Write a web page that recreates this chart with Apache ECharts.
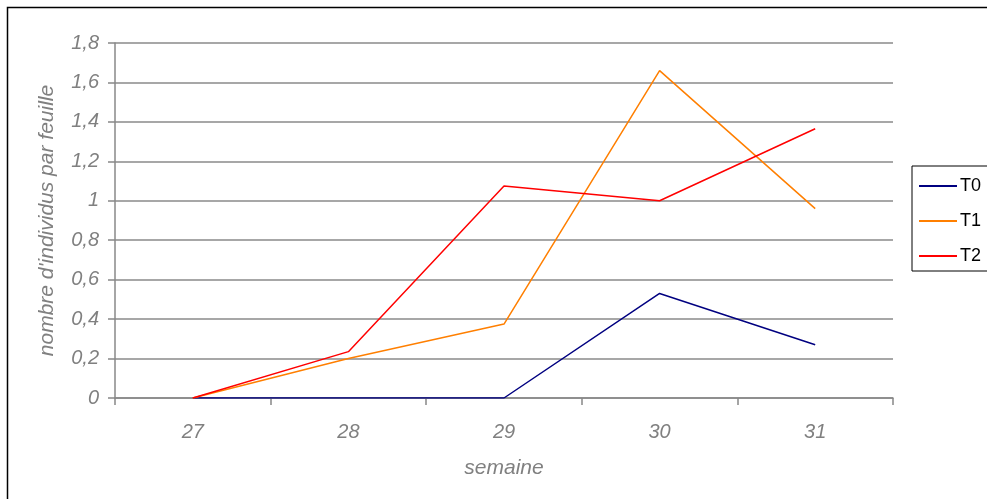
<!DOCTYPE html>
<html><head><meta charset="utf-8">
<script src="https://cdn.jsdelivr.net/npm/echarts@6/dist/echarts.min.js"></script>
<style>html,body{margin:0;padding:0;background:#fff}#c{width:987px;height:499px}</style>
</head><body><div id="c"></div>
<script>
const categories = ['27','28','29','30','31'];
const t0 = [0, 0, 0, 0.53, 0.27];
const t1 = [0, 0.20, 0.375, 1.66, 0.96];
const t2 = [0, 0.235, 1.075, 1.0, 1.365];
const seriesNames = ['T0','T1','T2'];
const colors = ['#000080','#ff7f00','#ff0000'];

const chart = echarts.init(document.getElementById('c'), null, {renderer:'canvas'});
const lbl = {color:'#808080', fontStyle:'italic', fontFamily:'Liberation Sans, Arial', fontSize:20};
chart.setOption({
  animation:false,
  graphic:[{type:'rect', shape:{x:7.5,y:7.5,width:1000,height:520}, style:{fill:null, stroke:'#000', lineWidth:1.5}, silent:true}],
  grid:{left:115, right:94, top:43, bottom:101, containLabel:false},
  legend:{
    orient:'vertical', left:912, top:166, data:seriesNames,
    itemWidth:38, itemHeight:2, itemGap:17, icon:'rect',
    borderColor:'#000', borderWidth:1, padding:[11,30,6,7],
    textStyle:{color:'#000', fontFamily:'Liberation Sans, Arial', fontSize:18, padding:[0,0,0,-2], height:18, lineHeight:18}
  },
  xAxis:{type:'category', data:categories, boundaryGap:true,
    name:'semaine', nameLocation:'middle', nameGap:60, nameTextStyle:Object.assign({}, lbl, {fontSize:21}),
    axisLine:{lineStyle:{color:'#888', width:1.5}},
    axisTick:{show:true, length:7, lineStyle:{color:'#888', width:1.5}},
    axisLabel:Object.assign({margin:24}, lbl),
    splitLine:{show:false}},
  yAxis:{type:'value', min:0, max:1.8, interval:0.2,
    name:"nombre d'individus par feuille", nameLocation:'middle', nameGap:57, nameTextStyle:Object.assign({}, lbl, {fontSize:21}),
    axisLine:{show:true, lineStyle:{color:'#888', width:1.5}},
    axisTick:{show:true, length:7, lineStyle:{color:'#888', width:1.5}},
    axisLabel:Object.assign({margin:16, formatter:v=>String(Math.round(v*10)/10).replace('.',',')}, lbl),
    splitLine:{lineStyle:{color:'#8a8a8a', width:1.5}}},
  series:[
    {name:'T0', type:'line', data:t0, color:colors[0], symbol:'none', lineStyle:{width:1.5}},
    {name:'T1', type:'line', data:t1, color:colors[1], symbol:'none', lineStyle:{width:1.5}},
    {name:'T2', type:'line', data:t2, color:colors[2], symbol:'none', lineStyle:{width:1.5}}
  ]
});
</script></body></html>
